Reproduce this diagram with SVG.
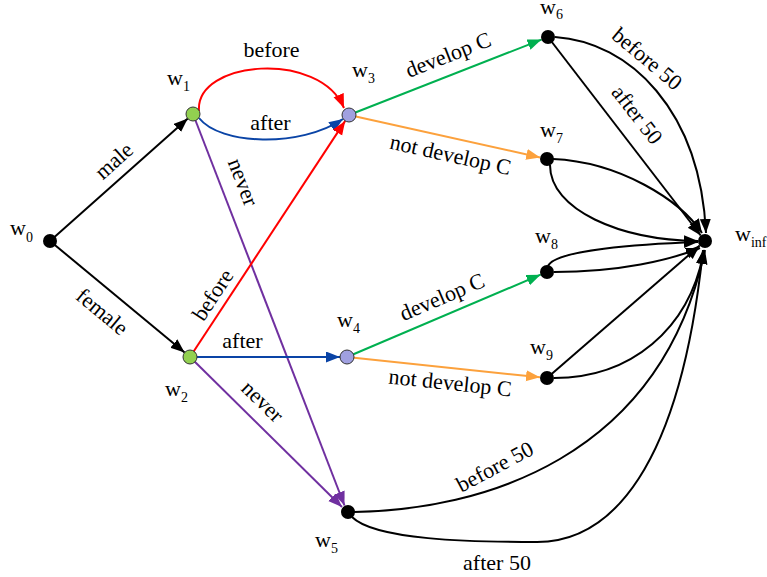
<svg xmlns="http://www.w3.org/2000/svg" width="767" height="577" viewBox="0 0 767 577" font-family="'Liberation Serif', 'DejaVu Serif', serif">
<style>
text{font-family:"Liberation Serif","DejaVu Serif",serif;font-size:22px;fill:#000}
.sub{font-size:14px}
.e{fill:none;stroke-width:2}
.k{stroke:#000}.r{stroke:#ff0000}.b{stroke:#0a44a6}.g{stroke:#00b050}.o{stroke:#fca13c}.p{stroke:#7030a0}
.lbl{text-anchor:middle}
</style>
<defs>
<marker id="ak" markerUnits="userSpaceOnUse" markerWidth="15" markerHeight="12" refX="14" refY="5.5" orient="auto"><path d="M0,0 L14,5.5 L0,11 Z" fill="#000"/></marker>
<marker id="ar" markerUnits="userSpaceOnUse" markerWidth="15" markerHeight="12" refX="14" refY="5.5" orient="auto"><path d="M0,0 L14,5.5 L0,11 Z" fill="#ff0000"/></marker>
<marker id="ab" markerUnits="userSpaceOnUse" markerWidth="15" markerHeight="12" refX="14" refY="5.5" orient="auto"><path d="M0,0 L14,5.5 L0,11 Z" fill="#0a44a6"/></marker>
<marker id="ag" markerUnits="userSpaceOnUse" markerWidth="15" markerHeight="12" refX="14" refY="5.5" orient="auto"><path d="M0,0 L14,5.5 L0,11 Z" fill="#00b050"/></marker>
<marker id="ao" markerUnits="userSpaceOnUse" markerWidth="15" markerHeight="12" refX="14" refY="5.5" orient="auto"><path d="M0,0 L14,5.5 L0,11 Z" fill="#fca13c"/></marker>
<marker id="ap" markerUnits="userSpaceOnUse" markerWidth="15" markerHeight="12" refX="14" refY="5.5" orient="auto"><path d="M0,0 L14,5.5 L0,11 Z" fill="#7030a0"/></marker>
</defs>

<g id="connectors">
<path class="e k" d="M50,241 L187.8,118.6" marker-end="url(#ak)"/>
<path class="e k" d="M50,241 L184.6,352.5" marker-end="url(#ak)"/>
<path class="e r" d="M199,111 C195,60 320,50 344,108" marker-end="url(#ar)"/>
<path class="e b" d="M199,118 C220,145 300,148 343,119" marker-end="url(#ab)"/>
<path class="e p" d="M193,114 L344.5,505.5" marker-end="url(#ap)"/>
<path class="e r" d="M190,357 L345.2,120.9" marker-end="url(#ar)"/>
<path class="e b" d="M197,357 L340,357" marker-end="url(#ab)"/>
<path class="e p" d="M190,357 L342,507" marker-end="url(#ap)"/>
<path class="e g" d="M349,115 L541.5,39.6" marker-end="url(#ag)"/>
<path class="e o" d="M349,115 L540.2,157.5" marker-end="url(#ao)"/>
<path class="e g" d="M347,357 L540.6,274.7" marker-end="url(#ag)"/>
<path class="e o" d="M347,357 L540,377.3" marker-end="url(#ao)"/>
<path class="e k" d="M555,37 C630,42 700,110 706,233" marker-end="url(#ak)"/>
<path class="e k" d="M548,37 L700.7,235.5" marker-end="url(#ak)"/>
<path class="e k" d="M553,159 C620,162 680,200 702,233" marker-end="url(#ak)"/>
<path class="e k" d="M550,165 C550,210 620,240 698,241" marker-end="url(#ak)"/>
<path class="e k" d="M548,266 C555,250 640,244 698,242" marker-end="url(#ak)"/>
<path class="e k" d="M554,272 C620,272 670,260 700,248" marker-end="url(#ak)"/>
<path class="e k" d="M547,378 L699.7,245.6" marker-end="url(#ak)"/>
<path class="e k" d="M554,378 C630,378 690,330 704,250" marker-end="url(#ak)"/>
<path class="e k" d="M354,512 C480,510 660,460 705,250" marker-end="url(#ak)"/>
<path class="e k" d="M352,517 C375,540 470,542 537,542 C610,542 680,470 703,250" marker-end="url(#ak)"/>
</g>

<g id="edge-labels">
<text class="lbl" x="271.5" y="57">before</text>
<text class="lbl" x="270.5" y="130">after</text>
<text class="lbl" transform="translate(114,161) rotate(-41.6)" y="7">male</text>
<text class="lbl" transform="translate(241,183) rotate(68.8)" y="5">never</text>
<text class="lbl" transform="translate(102,312) rotate(39.6)" y="7">female</text>
<text class="lbl" transform="translate(213,295) rotate(-56.7)" y="7">before</text>
<text class="lbl" x="242.5" y="348">after</text>
<text class="lbl" transform="translate(261,403) rotate(44.6)" y="5">never</text>
<text class="lbl" transform="translate(449,57) rotate(-21.4)" y="5">develop C</text>
<text class="lbl" transform="translate(450,157) rotate(12.5)" y="5">not develop C</text>
<text class="lbl" transform="translate(443,299) rotate(-23)" y="5">develop C</text>
<text class="lbl" transform="translate(450,385) rotate(6)" y="5">not develop C</text>
<text class="lbl" transform="translate(647,59) rotate(40)" y="7">before 50</text>
<text class="lbl" transform="translate(637,115) rotate(52)" y="7">after 50</text>
<text class="lbl" transform="translate(495,467) rotate(-28)" y="7">before 50</text>
<text class="lbl" x="497" y="570">after 50</text>
</g>

<g id="w0"><circle cx="50" cy="241" r="7" fill="#000"/><text x="10" y="235">w<tspan class="sub" dy="7">0</tspan></text></g>
<g id="w1"><circle cx="193" cy="114" r="7" fill="#92d050" stroke="#333" stroke-width="1"/><text x="167" y="85">w<tspan class="sub" dy="6">1</tspan></text></g>
<g id="w2"><circle cx="190" cy="357" r="7" fill="#92d050" stroke="#333" stroke-width="1"/><text x="165" y="396">w<tspan class="sub" dy="6">2</tspan></text></g>
<g id="w3"><circle cx="349" cy="115" r="7" fill="#a0a0e0" stroke="#333" stroke-width="1"/><text x="352" y="77">w<tspan class="sub" dy="6">3</tspan></text></g>
<g id="w4"><circle cx="347" cy="357" r="7" fill="#a0a0e0" stroke="#333" stroke-width="1"/><text x="337" y="327">w<tspan class="sub" dy="6">4</tspan></text></g>
<g id="w5"><circle cx="348" cy="512" r="7" fill="#000"/><text x="315" y="547">w<tspan class="sub" dy="6">5</tspan></text></g>
<g id="w6"><circle cx="548" cy="37" r="7" fill="#000"/><text x="540" y="14">w<tspan class="sub" dy="5">6</tspan></text></g>
<g id="w7"><circle cx="547" cy="159" r="7" fill="#000"/><text x="540" y="137">w<tspan class="sub" dy="6">7</tspan></text></g>
<g id="w8"><circle cx="547" cy="272" r="7" fill="#000"/><text x="535" y="243">w<tspan class="sub" dy="6">8</tspan></text></g>
<g id="w9"><circle cx="547" cy="378" r="7" fill="#000"/><text x="530" y="354">w<tspan class="sub" dy="6">9</tspan></text></g>
<g id="winf"><circle cx="705" cy="241" r="7" fill="#000"/><text x="735" y="241">w<tspan class="sub" dy="6">inf</tspan></text></g>
</svg>
